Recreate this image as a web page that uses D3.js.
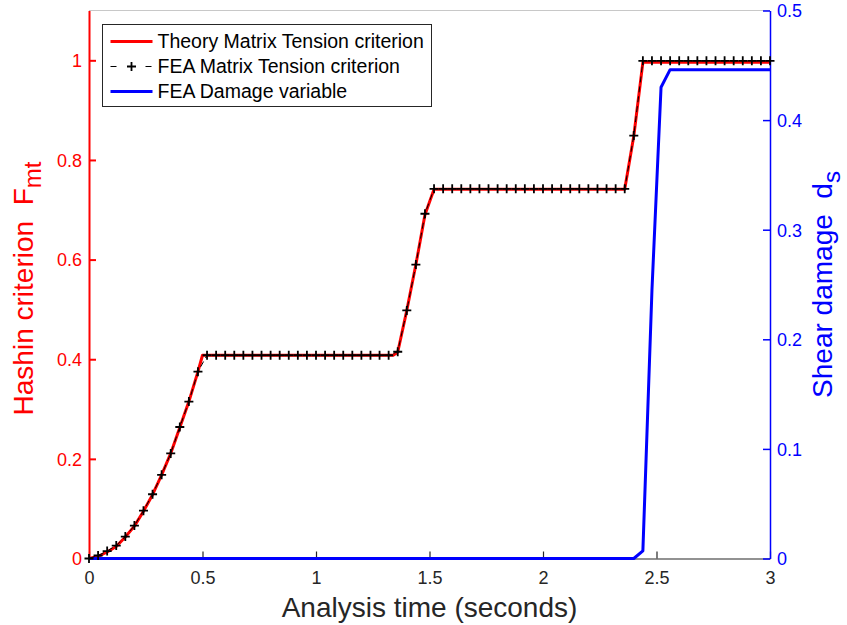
<!DOCTYPE html>
<html>
<head>
<meta charset="utf-8">
<script src="https://cdn.jsdelivr.net/npm/d3@7"></script>
<style>
  html, body { margin: 0; padding: 0; background: #fff; }
  svg { display: block; font-family: "Liberation Sans", Arial, Helvetica, sans-serif; }
</style>
</head>
<body>
<svg id="chart" width="847" height="625"></svg>
<script>
// Time axis ticks and labels
const xTicks = [0, 0.5, 1, 1.5, 2, 2.5, 3];
const xTickLabels = ["0", "0.5", "1", "1.5", "2", "2.5", "3"];
// Left axis (Hashin criterion) ticks
const leftTicks = [0, 0.2, 0.4, 0.6, 0.8, 1];
const leftTickLabels = ["0", "0.2", "0.4", "0.6", "0.8", "1"];
// Right axis (shear damage) ticks
const rightTicks = [0, 0.1, 0.2, 0.3, 0.4, 0.5];
const rightTickLabels = ["0", "0.1", "0.2", "0.3", "0.4", "0.5"];

// Analytical matrix tension criterion
const theoryTime = [0, 0.04, 0.08, 0.12, 0.16, 0.20, 0.24, 0.28, 0.32, 0.36, 0.40, 0.44, 0.48, 0.50,
  1.34, 1.36, 1.40, 1.44, 1.48, 1.52, 2.36, 2.40, 2.44, 3.00];
const theoryHashin = [0, 0.004, 0.013, 0.024, 0.043, 0.065, 0.095, 0.128, 0.168, 0.211, 0.263, 0.315, 0.375, 0.408,
  0.408, 0.414, 0.498, 0.590, 0.690, 0.741, 0.741, 0.848, 0.996, 0.996];

// FEA output increments
const feaTime = [0, 0.04, 0.08, 0.12, 0.16, 0.20, 0.24, 0.28, 0.32, 0.36, 0.40, 0.44, 0.48, 0.52,
  0.56, 0.60, 0.64, 0.68, 0.72, 0.76, 0.80, 0.84, 0.88, 0.92, 0.96, 1.00, 1.04, 1.08, 1.12, 1.16, 1.20, 1.24, 1.28, 1.32,
  1.36, 1.40, 1.44, 1.48, 1.52,
  1.56, 1.60, 1.64, 1.68, 1.72, 1.76, 1.80, 1.84, 1.88, 1.92, 1.96, 2.00, 2.04, 2.08, 2.12, 2.16, 2.20, 2.24, 2.28, 2.32, 2.36,
  2.40, 2.44,
  2.48, 2.52, 2.56, 2.60, 2.64, 2.68, 2.72, 2.76, 2.80, 2.84, 2.88, 2.92, 2.96, 3.00];
const feaHashin = [0, 0.006, 0.015, 0.026, 0.044, 0.066, 0.096, 0.129, 0.168, 0.211, 0.264, 0.315, 0.375, 0.408,
  0.408, 0.408, 0.408, 0.408, 0.408, 0.408, 0.408, 0.408, 0.408, 0.408, 0.408, 0.408, 0.408, 0.408, 0.408, 0.408, 0.408, 0.408, 0.408, 0.408,
  0.415, 0.498, 0.590, 0.692, 0.742,
  0.742, 0.742, 0.742, 0.742, 0.742, 0.742, 0.742, 0.742, 0.742, 0.742, 0.742, 0.742, 0.742, 0.742, 0.742, 0.742, 0.742, 0.742, 0.742, 0.742, 0.742,
  0.849, 0.999,
  0.999, 0.999, 0.999, 0.999, 0.999, 0.999, 0.999, 0.999, 0.999, 0.999, 0.999, 0.999, 0.999, 0.999];
const feaDamage = [0, 0, 0, 0, 0, 0, 0, 0, 0, 0, 0, 0, 0, 0,
  0, 0, 0, 0, 0, 0, 0, 0, 0, 0, 0, 0, 0, 0, 0, 0, 0, 0, 0, 0,
  0, 0, 0, 0, 0,
  0, 0, 0, 0, 0, 0, 0, 0, 0, 0, 0, 0, 0, 0, 0, 0, 0, 0, 0, 0, 0,
  0, 0.007,
  0.245, 0.430, 0.446, 0.446, 0.446, 0.446, 0.446, 0.446, 0.446, 0.446, 0.446, 0.446, 0.446, 0.446];

const legendLabels = ["Theory Matrix Tension criterion", "FEA Matrix Tension criterion", "FEA Damage variable"];

const RED = "#ff0000", BLUE = "#0000ff", INK = "#262626";
const FONT = "Liberation Sans, Arial, sans-serif";
const margin = { left: 89, right: 77, top: 10.5, bottom: 66.5 };
const W = 847, H = 625;
const svg = d3.select("#chart");

const x = d3.scaleLinear().domain([0, 3]).range([margin.left, W - margin.right]);
const yL = d3.scaleLinear().domain([0, 1.1]).range([H - margin.bottom, margin.top]);
const yR = d3.scaleLinear().domain([0, 0.5]).range([H - margin.bottom, margin.top]);

const x0 = x.range()[0], x1 = x.range()[1];
const yb = yL.range()[0], yt = yL.range()[1];

// Top box edge
svg.append("line").attr("x1", x0).attr("x2", x1).attr("y1", yt).attr("y2", yt)
  .attr("stroke", "#c8c8c8").attr("stroke-width", 1.2);

// Bottom axis (ticks point into the plot)
const gx = svg.append("g").attr("transform", `translate(0,${yb})`)
  .call(d3.axisBottom(x).tickValues(xTicks).tickSize(0).tickPadding(0).tickFormat(""));
gx.select(".domain").attr("stroke", INK).attr("stroke-width", 1.2);
gx.selectAll(".tick").append("line").attr("y1", 0).attr("y2", -7).attr("stroke", INK).attr("stroke-width", 1.2);
gx.selectAll(".tick").append("text").text((d, i) => xTickLabels[i])
  .attr("y", 25).attr("text-anchor", "middle").attr("fill", INK)
  .attr("font-size", 18).attr("font-family", FONT);

// Left axis (red)
const gl = svg.append("g").attr("transform", `translate(${x0},0)`)
  .call(d3.axisLeft(yL).tickValues(leftTicks).tickSize(0).tickPadding(0).tickFormat(""));
gl.select(".domain").attr("stroke", RED).attr("stroke-width", 2);
gl.selectAll(".tick").append("line").attr("x1", 0).attr("x2", 7).attr("stroke", RED).attr("stroke-width", 2);
gl.selectAll(".tick").append("text").text((d, i) => leftTickLabels[i])
  .attr("x", -7).attr("dy", "0.35em").attr("text-anchor", "end").attr("fill", RED)
  .attr("font-size", 18).attr("font-family", FONT);

// Right axis (blue)
const gr = svg.append("g").attr("transform", `translate(${x1},0)`)
  .call(d3.axisRight(yR).tickValues(rightTicks).tickSize(0).tickPadding(0).tickFormat(""));
gr.select(".domain").attr("stroke", BLUE).attr("stroke-width", 1.5);
gr.selectAll(".tick").append("line").attr("x1", 0).attr("x2", -7).attr("stroke", BLUE).attr("stroke-width", 1.5);
gr.selectAll(".tick").append("text").text((d, i) => rightTickLabels[i])
  .attr("x", 7).attr("dy", "0.35em").attr("text-anchor", "start").attr("fill", BLUE)
  .attr("font-size", 18).attr("font-family", FONT);

// Curves
const theoryLine = d3.line().x((d, i) => x(theoryTime[i])).y(d => yL(d));
const feaLine = d3.line().x((d, i) => x(feaTime[i])).y(d => yL(d));
const damageLine = d3.line().x((d, i) => x(feaTime[i])).y(d => yR(d));

svg.append("path").datum(theoryHashin).attr("d", theoryLine)
  .attr("fill", "none").attr("stroke", RED).attr("stroke-width", 3).attr("stroke-linejoin", "round");

svg.append("path").datum(feaDamage).attr("d", damageLine)
  .attr("fill", "none").attr("stroke", BLUE).attr("stroke-width", 3).attr("stroke-linejoin", "round");

svg.append("path").datum(feaHashin).attr("d", feaLine)
  .attr("fill", "none").attr("stroke", "#000").attr("stroke-width", 1).attr("stroke-dasharray", "6,4");

const plus = (sel, s) => sel.append("path")
  .attr("d", `M${-s},0H${s}M0,${-s}V${s}`).attr("stroke", "#000").attr("stroke-width", 1.8).attr("fill", "none");

svg.append("g").selectAll("g").data(feaHashin).join("g")
  .attr("transform", (d, i) => `translate(${x(feaTime[i])},${yL(d)})`)
  .call(plus, 4.5);

// Legend
const lg = svg.append("g").attr("transform", "translate(102.5,24.5)");
lg.append("rect").attr("width", 329).attr("height", 82).attr("fill", "#fff")
  .attr("stroke", INK).attr("stroke-width", 1);
const rowY = [17, 42, 67];
lg.append("line").attr("x1", 8).attr("x2", 50).attr("y1", rowY[0]).attr("y2", rowY[0])
  .attr("stroke", RED).attr("stroke-width", 3);
lg.append("line").attr("x1", 8).attr("x2", 14).attr("y1", rowY[1]).attr("y2", rowY[1])
  .attr("stroke", "#000").attr("stroke-width", 1);
lg.append("line").attr("x1", 43).attr("x2", 49).attr("y1", rowY[1]).attr("y2", rowY[1])
  .attr("stroke", "#000").attr("stroke-width", 1);
lg.append("g").attr("transform", `translate(29,${rowY[1]})`).call(plus, 4.5);
lg.append("line").attr("x1", 8).attr("x2", 50).attr("y1", rowY[2]).attr("y2", rowY[2])
  .attr("stroke", BLUE).attr("stroke-width", 3);
lg.selectAll("text.lab").data(legendLabels).join("text").attr("class", "lab")
  .attr("x", 55).attr("y", (d, i) => rowY[i]).attr("dy", "0.35em")
  .attr("font-size", 19.5).attr("fill", "#000").text(d => d);

// Axis titles
svg.append("text").attr("x", (x0 + x1) / 2).attr("y", 617).attr("text-anchor", "middle")
  .attr("font-size", 28).attr("fill", INK).text("Analysis time (seconds)");

const lt = svg.append("text").attr("transform", `translate(33,${(yb + yt) / 2 + 4}) rotate(-90)`)
  .attr("text-anchor", "middle").attr("font-size", 28).attr("fill", RED);
lt.append("tspan").text("Hashin criterion\u00a0\u00a0F");
lt.append("tspan").attr("font-size", 24).attr("dy", 8).text("mt");

const rt = svg.append("text").attr("transform", `translate(832,${(yb + yt) / 2}) rotate(-90)`)
  .attr("text-anchor", "middle").attr("font-size", 28).attr("fill", BLUE);
rt.append("tspan").text("Shear damage\u00a0\u00a0d");
rt.append("tspan").attr("font-size", 24).attr("dy", 8).text("s");
</script>
</body>
</html>
